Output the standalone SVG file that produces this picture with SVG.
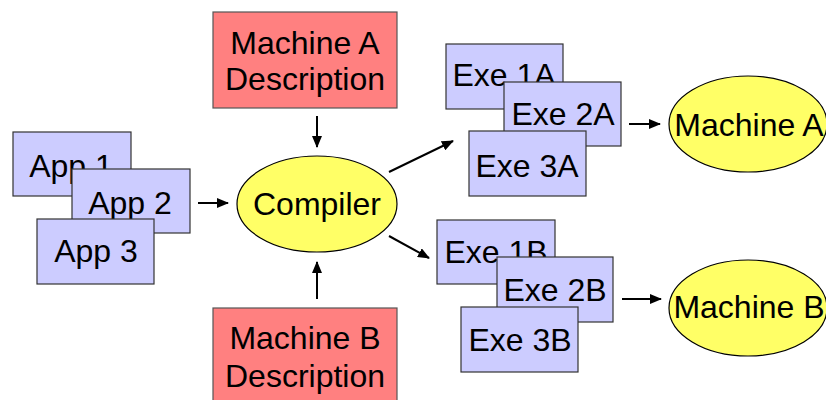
<svg xmlns="http://www.w3.org/2000/svg" width="826" height="400" viewBox="0 0 826 400">
  <defs>
    <style>
      text { font-family: "Liberation Sans", Arial, sans-serif; font-size: 32px; fill: #000; text-anchor: middle; }
      .src { fill: #CCCCFF; stroke: #333; stroke-width: 1.2; }
      .desc { fill: #FF8080; stroke: #555; stroke-width: 1.2; }
      .oval { fill: #FFFF66; stroke: #000; stroke-width: 1.2; }
      .conn line { stroke: #000; stroke-width: 2; marker-end: url(#head); }
    </style>
    <marker id="head" viewBox="0 0 12 10" refX="11" refY="5" markerWidth="6" markerHeight="5" markerUnits="strokeWidth" orient="auto">
      <path d="M0,0 L12,5 L0,10 Z" fill="#000"/>
    </marker>
  </defs>
  <rect width="826" height="400" fill="#fff"/>

  <!-- machine descriptions -->
  <g id="descA">
    <rect class="desc" x="213" y="12" width="184" height="96"/>
    <text x="305" y="54">Machine A</text>
    <text x="305" y="90">Description</text>
  </g>
  <g id="descB">
    <rect class="desc" x="213" y="308" width="184" height="100"/>
    <text x="305" y="349">Machine B</text>
    <text x="305" y="387">Description</text>
  </g>

  <!-- source programs -->
  <g id="app1">
    <rect class="src" x="13" y="132" width="118" height="64"/>
    <text x="71" y="177">App 1</text>
  </g>
  <g id="app2">
    <rect class="src" x="72" y="169" width="118" height="64"/>
    <text x="130" y="214">App 2</text>
  </g>
  <g id="app3">
    <rect class="src" x="37" y="219" width="117" height="65"/>
    <text x="96" y="262">App 3</text>
  </g>

  <!-- compiler -->
  <g id="compiler">
    <ellipse class="oval" cx="317" cy="204" rx="80" ry="48"/>
    <text x="317" y="215">Compiler</text>
  </g>

  <!-- executables for machine A -->
  <g id="exe1A">
    <rect class="src" x="446" y="44" width="117" height="65"/>
    <text x="504" y="86">Exe 1A</text>
  </g>
  <g id="exe2A">
    <rect class="src" x="504" y="82" width="117" height="64"/>
    <text x="563" y="125">Exe 2A</text>
  </g>
  <g id="exe3A">
    <rect class="src" x="469" y="131" width="117" height="65"/>
    <text x="527" y="177">Exe 3A</text>
  </g>

  <!-- executables for machine B -->
  <g id="exe1B">
    <rect class="src" x="437" y="220" width="118" height="64"/>
    <text x="496" y="263">Exe 1B</text>
  </g>
  <g id="exe2B">
    <rect class="src" x="497" y="257" width="116" height="65"/>
    <text x="555" y="301">Exe 2B</text>
  </g>
  <g id="exe3B">
    <rect class="src" x="461" y="307" width="117" height="65"/>
    <text x="520" y="351">Exe 3B</text>
  </g>

  <!-- target machines -->
  <g id="machineA">
    <ellipse class="oval" cx="748" cy="124" rx="79" ry="48"/>
    <text x="749" y="136">Machine A</text>
  </g>
  <g id="machineB">
    <ellipse class="oval" cx="748" cy="308" rx="79" ry="48"/>
    <text x="749" y="318">Machine B</text>
  </g>

  <!-- connectors -->
  <g class="conn">
    <line x1="198" y1="203" x2="228" y2="203"/>
    <line x1="317" y1="116" x2="317" y2="147"/>
    <line x1="317" y1="299" x2="317" y2="262"/>
    <line x1="389" y1="172" x2="453" y2="141"/>
    <line x1="389" y1="236" x2="429" y2="258"/>
    <line x1="629" y1="124" x2="660" y2="124"/>
    <line x1="622" y1="299" x2="661" y2="299"/>
  </g>
</svg>
